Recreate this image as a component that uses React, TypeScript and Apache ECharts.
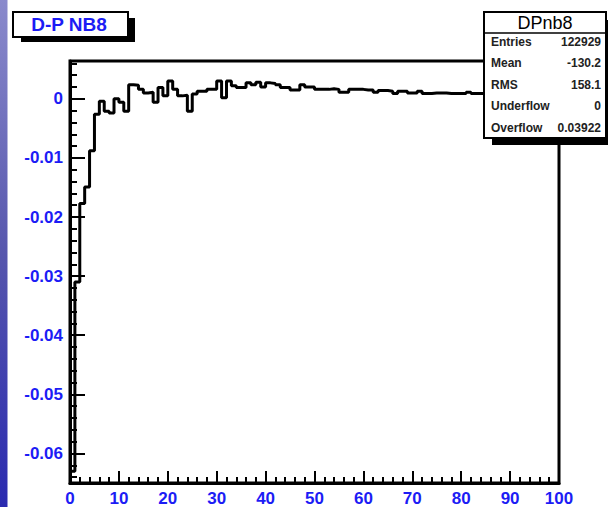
import React, { useEffect, useRef } from "react";
import * as echarts from "echarts";

// Histogram bin contents (100 bins, 0..100)
const binValues: number[] = [
  -0.063, -0.031, -0.0177, -0.0149, -0.0088, -0.0026, -0.0004, -0.0021, -0.0024, 0.0,
  -0.0006, -0.0021, 0.0024, 0.0023, 0.0016, 0.001, 0.0011, -0.0006, 0.0019, 0.0005,
  0.003, 0.0016, 0.0005, 0.0006, -0.0021, 0.0008, 0.0013, 0.0013, 0.0016, 0.0016,
  0.003, 0.0002, 0.003, 0.0022, 0.0019, 0.0019, 0.0027, 0.0024, 0.0028, 0.002,
  0.0027, 0.0026, 0.0024, 0.0019, 0.0019, 0.0015, 0.0015, 0.0024, 0.002, 0.002,
  0.0016, 0.0016, 0.0016, 0.0017, 0.0016, 0.0011, 0.0011, 0.0016, 0.0016, 0.0016,
  0.0015, 0.0015, 0.0011, 0.0014, 0.0014, 0.0013, 0.0009, 0.0013, 0.0013, 0.001,
  0.001, 0.0013, 0.0009, 0.0009, 0.001, 0.001, 0.001, 0.0009, 0.0009, 0.0009,
  0.0009, 0.0011, 0.0009, 0.0009, 0.0009, 0.001, 0.0008, 0.0009, 0.0009, 0.001,
  0.0008, 0.0009, 0.0009, 0.0008, 0.0009, 0.0009, 0.0008, 0.0009, 0.0008, 0.0008,
];

const xMin = 0;
const xMax = 100;
const yMin = -0.065;
const yMax = 0.0064;

const yMajorTicks: number[] = [-0.06, -0.05, -0.04, -0.03, -0.02, -0.01, 0];
const yMinorTicks: number[] = [
  -0.064, -0.062, -0.058, -0.056, -0.054, -0.052, -0.048, -0.046, -0.044, -0.042,
  -0.038, -0.036, -0.034, -0.032, -0.028, -0.026, -0.024, -0.022, -0.018, -0.016,
  -0.014, -0.012, -0.008, -0.006, -0.004, -0.002, 0.002, 0.004, 0.006,
];

const histTitle = "D-P NB8";
const statsTitle = "DPnb8";
const statLabels: string[] = ["Entries", "Mean", "RMS", "Underflow", "Overflow"];
const statValues: string[] = ["122929", "-130.2", "158.1", "0", "0.03922"];

const BLUE = "#1c1cf5";
const FONT = "'Liberation Sans', Arial, Helvetica, sans-serif";

export default function App() {
  const ref = useRef<HTMLDivElement>(null);

  useEffect(() => {
    if (!ref.current) return;
    const chart = echarts.init(ref.current, null, { renderer: "svg" });

    const binWidth = (xMax - xMin) / binValues.length;
    const stepData: number[][] = binValues.map((v, i) => [xMin + i * binWidth, v]);
    stepData.push([xMax, binValues[binValues.length - 1]]);

    const statRowY0 = 42;
    const statRowDy = 21.4;

    const graphics: any[] = [
      // left decorative strip
      {
        type: "rect",
        z: 1,
        shape: { x: 0, y: 0, width: 7.5, height: 507 },
        style: {
          fill: new echarts.graphic.LinearGradient(0, 0, 0, 1, [
            { offset: 0, color: "#8a8acc" },
            { offset: 0.5, color: "#5656ad" },
            { offset: 1, color: "#2a2ab0" },
          ]),
        },
      },
      // title box shadow
      {
        type: "rect",
        z: 100,
        shape: { x: 21, y: 18, width: 114, height: 24 },
        style: { fill: "#000" },
      },
      {
        type: "rect",
        z: 101,
        shape: { x: 13, y: 12, width: 115, height: 25 },
        style: { fill: "#fff", stroke: "#000", lineWidth: 2 },
      },
      {
        type: "text",
        z: 102,
        x: 69,
        y: 24.5,
        style: {
          text: histTitle,
          fill: BLUE,
          font: `bold 19px ${FONT}`,
          align: "center",
          verticalAlign: "middle",
        },
      },
      // stats box shadow
      {
        type: "rect",
        z: 100,
        shape: { x: 492, y: 20, width: 130, height: 125 },
        style: { fill: "#000" },
      },
      {
        type: "rect",
        z: 101,
        shape: { x: 484, y: 12, width: 122, height: 126 },
        style: { fill: "#fff", stroke: "#000", lineWidth: 2 },
      },
      {
        type: "line",
        z: 102,
        shape: { x1: 484, y1: 33, x2: 606, y2: 33 },
        style: { stroke: "#000", lineWidth: 1.5 },
      },
      {
        type: "text",
        z: 102,
        x: 545,
        y: 22.5,
        style: {
          text: statsTitle,
          fill: "#000",
          font: `normal 18px ${FONT}`,
          align: "center",
          verticalAlign: "middle",
        },
      },
    ];

    statLabels.forEach((lab, i) => {
      graphics.push({
        type: "text",
        z: 102,
        x: 491,
        y: statRowY0 + i * statRowDy,
        style: {
          text: lab,
          fill: "#222",
          font: `bold 12px ${FONT}`,
          align: "left",
          verticalAlign: "middle",
        },
      });
      graphics.push({
        type: "text",
        z: 102,
        x: 601,
        y: statRowY0 + i * statRowDy,
        style: {
          text: statValues[i],
          fill: "#222",
          font: `bold 12px ${FONT}`,
          align: "right",
          verticalAlign: "middle",
        },
      });
    });

    const axisLabelStyle = {
      color: BLUE,
      fontSize: 17,
      fontWeight: "bold" as const,
      fontFamily: FONT,
    };

    chart.setOption({
      animation: false,
      backgroundColor: "#fff",
      grid: {
        left: 70,
        right: 49,
        top: 61,
        bottom: 22,
        show: true,
        borderColor: "#000",
        borderWidth: 3,
        backgroundColor: "#fff",
      },
      xAxis: {
        type: "value",
        min: xMin,
        max: xMax,
        interval: 10,
        axisLine: { show: true, onZero: false, lineStyle: { color: "#000", width: 3 } },
        axisTick: { show: true, inside: true, length: 12, lineStyle: { color: "#000", width: 2 } },
        minorTick: { show: true, splitNumber: 5, length: 6, lineStyle: { color: "#000", width: 2 } },
        splitLine: { show: false },
        minorSplitLine: { show: false },
        axisLabel: { ...axisLabelStyle, margin: 7 },
      },
      yAxis: [
        {
          type: "value",
          min: yMin,
          max: yMax,
          position: "left",
          axisLine: { show: true, onZero: false, lineStyle: { color: "#000", width: 3 } },
          axisTick: {
            show: true,
            inside: true,
            length: 15,
            customValues: yMajorTicks,
            lineStyle: { color: "#000", width: 2 },
          },
          axisLabel: {
            ...axisLabelStyle,
            margin: 7,
            customValues: yMajorTicks,
            formatter: (v: number) => (Math.abs(v) < 1e-12 ? "0" : v.toFixed(2)),
          },
          splitLine: { show: false },
        },
        {
          type: "value",
          min: yMin,
          max: yMax,
          position: "left",
          axisLine: { show: false },
          axisTick: {
            show: true,
            inside: true,
            length: 7,
            customValues: yMinorTicks,
            lineStyle: { color: "#000", width: 2 },
          },
          axisLabel: { show: false },
          splitLine: { show: false },
        },
      ],
      series: [
        {
          type: "line",
          step: "end",
          data: stepData,
          showSymbol: false,
          symbol: "none",
          clip: true,
          lineStyle: { color: "#000", width: 3 },
          z: 5,
        },
      ],
      graphic: graphics,
    });

    return () => chart.dispose();
  }, []);

  return (
    <div
      ref={ref}
      style={{ position: "fixed", left: 0, top: 0, width: 608, height: 507, background: "#fff" }}
    />
  );
}
